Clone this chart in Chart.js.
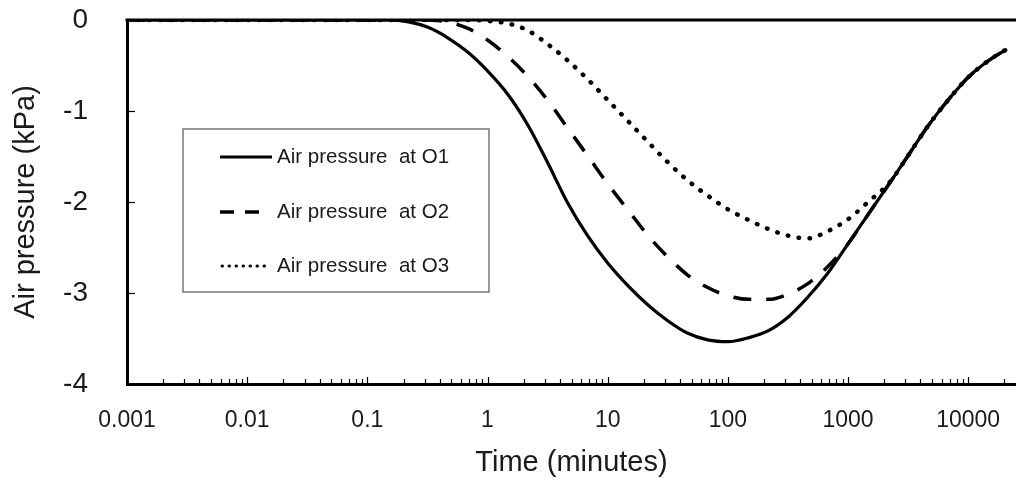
<!DOCTYPE html>
<html>
<head>
<meta charset="utf-8">
<script src="https://cdn.jsdelivr.net/npm/chart.js@4"></script>
<style>
  html, body { margin: 0; padding: 0; background: #fff; }
  #wrap { width: 1016px; height: 478px; }
</style>
</head>
<body>
<div id="wrap"><canvas id="pressureChart" width="1016" height="478"></canvas></div>
<script>
// time in minutes (log axis)
const timeMinutes = [0.001, 0.01, 0.1, 0.15, 0.22, 0.32, 0.46, 0.68, 1, 1.5, 2.2, 3.2, 4.6, 6.8, 10,
  15, 22, 32, 46, 68, 100, 150, 220, 320, 460, 680, 1000, 1500, 2200, 3200, 4600, 6800, 10000, 15000, 21000];

// air pressure in kPa
const pressureO1 = [0, 0, 0, 0, -0.02, -0.08, -0.19, -0.35, -0.56, -0.83, -1.17, -1.58, -2.0, -2.37, -2.67,
  -2.93, -3.14, -3.31, -3.44, -3.515, -3.535, -3.49, -3.41, -3.26, -3.05, -2.78, -2.46, -2.12, -1.8, -1.48, -1.17, -0.88, -0.63, -0.44, -0.32];
const pressureO2 = [0, 0, 0, 0, 0, 0, -0.02, -0.09, -0.22, -0.41, -0.63, -0.89, -1.18, -1.49, -1.8,
  -2.1, -2.38, -2.61, -2.8, -2.94, -3.03, -3.07, -3.07, -3.01, -2.9, -2.71, -2.46, -2.12, -1.8, -1.48, -1.17, -0.88, -0.63, -0.44, -0.32];
const pressureO3 = [0, 0, 0, 0, 0, 0, 0, 0, -0.01, -0.04, -0.12, -0.27, -0.44, -0.65, -0.88,
  -1.12, -1.35, -1.57, -1.76, -1.93, -2.08, -2.2, -2.3, -2.37, -2.4, -2.32, -2.19, -1.99, -1.79, -1.48, -1.17, -0.88, -0.63, -0.44, -0.32];

const seriesNames = ['Air pressure  at O1', 'Air pressure  at O2', 'Air pressure  at O3'];
const xTickLabels = ['0.001', '0.01', '0.1', '1', '10', '100', '1000', '10000'];
const yTickValues = [-4, -3, -2, -1, 0];

const FONT = "'Liberation Sans', Arial, sans-serif";
const INK = '#1a1a1a';

function toPoints(values) {
  return timeMinutes.map((t, i) => ({ x: t, y: values[i] }));
}

// major decades + minor 2..9 ticks
const majorTicks = xTickLabels.map(Number);
const allTicks = [];
majorTicks.forEach(m => {
  allTicks.push({ value: m, major: true });
  for (let k = 2; k <= 9; k++) allTicks.push({ value: m * k, major: false });
});

// inward tick marks, top frame line and boxed legend
const framePlugin = {
  id: 'frame',
  afterDraw(chart) {
    const ctx = chart.ctx;
    const area = chart.chartArea;
    const xs = chart.scales.x;
    const ys = chart.scales.y;
    ctx.save();
    ctx.strokeStyle = '#000';
    ctx.lineWidth = 1.2;
    allTicks.forEach(t => {
      if (t.value > xs.max) return;
      const px = Math.round(xs.getPixelForValue(t.value)) + 0.5;
      ctx.beginPath();
      ctx.moveTo(px, area.bottom);
      ctx.lineTo(px, area.bottom - (t.major ? 7 : 5));
      ctx.stroke();
    });
    yTickValues.forEach(v => {
      const py = Math.round(ys.getPixelForValue(v)) + 0.5;
      ctx.beginPath();
      ctx.moveTo(area.left, py);
      ctx.lineTo(area.left + 8, py);
      ctx.stroke();
    });
    // top line
    ctx.lineWidth = 3;
    ctx.beginPath();
    ctx.moveTo(area.left - 1.5, area.top);
    ctx.lineTo(area.right, area.top);
    ctx.stroke();

    // legend box
    const box = { x: 183, y: 129, w: 306, h: 163 };
    ctx.fillStyle = '#fff';
    ctx.fillRect(box.x, box.y, box.w, box.h);
    ctx.strokeStyle = '#777';
    ctx.lineWidth = 1.5;
    ctx.strokeRect(box.x, box.y, box.w, box.h);
    const rows = [157, 212, 266];
    const samples = [
      { dash: [], w: 3, cap: 'butt', x1: 220, x2: 272 },
      { dash: [14, 11], w: 3.5, cap: 'butt', x1: 220, x2: 259 },
      { dash: [0.5, 6.5], w: 3, cap: 'round', x1: 222, x2: 268 }
    ];
    chart.data.datasets.forEach((ds, i) => {
      const s = samples[i];
      ctx.strokeStyle = '#000';
      ctx.lineWidth = s.w;
      ctx.lineCap = s.cap;
      ctx.setLineDash(s.dash);
      ctx.beginPath();
      ctx.moveTo(s.x1, rows[i]);
      ctx.lineTo(s.x2, rows[i]);
      ctx.stroke();
      ctx.setLineDash([]);
      ctx.fillStyle = INK;
      ctx.font = '20.5px ' + FONT;
      ctx.textBaseline = 'middle';
      ctx.textAlign = 'left';
      ctx.fillText(ds.label, 277, rows[i]);
    });
    ctx.restore();
  }
};

const ctx = document.getElementById('pressureChart').getContext('2d');
new Chart(ctx, {
  type: 'line',
  data: {
    datasets: [
      {
        label: seriesNames[0],
        data: toPoints(pressureO1),
        borderColor: '#000',
        borderWidth: 3.2,
        pointRadius: 0,
        cubicInterpolationMode: 'monotone'
      },
      {
        label: seriesNames[1],
        data: toPoints(pressureO2),
        borderColor: '#000',
        borderWidth: 3.5,
        borderDash: [18, 15],
        pointRadius: 0,
        cubicInterpolationMode: 'monotone'
      },
      {
        label: seriesNames[2],
        data: toPoints(pressureO3),
        borderColor: '#000',
        borderWidth: 4.5,
        borderDash: [0.5, 10.5],
        borderCapStyle: 'round',
        pointRadius: 0,
        cubicInterpolationMode: 'monotone'
      }
    ]
  },
  options: {
    responsive: false,
    animation: false,
    layout: { padding: { top: 20, right: 0, left: 0, bottom: 0 } },
    plugins: {
      legend: { display: false },
      tooltip: { enabled: false }
    },
    scales: {
      x: {
        type: 'logarithmic',
        min: 0.001,
        max: 25000,
        afterBuildTicks(scale) {
          scale.ticks = allTicks.filter(t => t.value <= 25000).map(t => ({ value: t.value, major: t.major }));
        },
        afterFit(scale) {
          scale.height = 94;
          scale.paddingLeft = 0;
          scale.paddingRight = 0;
        },
        grid: { display: false },
        border: { display: true, color: '#000', width: 3 },
        ticks: {
          autoSkip: false,
          maxRotation: 0,
          padding: 15,
          color: INK,
          font: { family: FONT, size: 23 },
          callback(value) {
            const i = majorTicks.findIndex(m => Math.abs(m - value) / m < 1e-6);
            return i >= 0 ? xTickLabels[i] : '';
          }
        },
        title: {
          display: true,
          text: 'Time (minutes)',
          color: INK,
          font: { family: FONT, size: 29, lineHeight: 1.05 },
          padding: { top: 0, bottom: 0 }
        }
      },
      y: {
        min: -4,
        max: 0,
        afterBuildTicks(scale) {
          scale.ticks = yTickValues.map(v => ({ value: v }));
        },
        afterFit(scale) {
          scale.width = 127;
          scale.paddingTop = 0;
          scale.paddingBottom = 0;
        },
        grid: { display: false },
        border: { display: true, color: '#000', width: 3 },
        ticks: {
          padding: 31,
          color: INK,
          font: { family: FONT, size: 28 },
          callback(value) { return String(value); }
        },
        title: {
          display: true,
          text: 'Air pressure (kPa)',
          color: INK,
          font: { family: FONT, size: 29 },
          padding: { top: 9, bottom: 0 }
        }
      }
    }
  },
  plugins: [framePlugin]
});
</script>
</body>
</html>
